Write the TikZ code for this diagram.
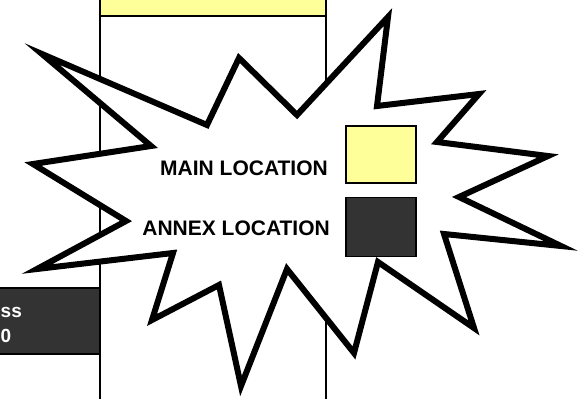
\documentclass[tikz,border=0pt]{standalone}
\usepackage{fontspec}
\setmainfont{Liberation Sans}
\usetikzlibrary{positioning}
\definecolor{mainYellow}{RGB}{255,255,153}
\definecolor{annexGrey}{RGB}{51,51,51}
\tikzset{
    wall/.style={
        draw=black, line width=2.5pt,
    },
    mainblock/.style={
        rectangle, fill=mainYellow, draw=black, line width=2.5pt,
        inner sep=0pt, outer sep=0pt,
    },
    annexblock/.style={
        rectangle, fill=annexGrey, draw=black, line width=2.5pt,
        inner sep=0pt, outer sep=0pt,
    },
    % the star-shaped call-out that carries the key
    burst/.style={
        fill=white, draw=black, line width=6pt,
        line join=miter, miter limit=20,
    },
    keybox/.style={
        rectangle, draw=black, line width=1.2pt, inner sep=0pt,
        minimum width=70pt, minimum height=57pt,
    },
    keylab/.style={
        font=\fontsize{21}{25}\selectfont\bfseries, inner sep=0pt,
    },
    blocklab/.style={
        font=\fontsize{19}{25}\selectfont\bfseries, text=white,
        inner sep=0pt, align=left,
    },
}

\begin{document}
\begin{tikzpicture}[x=1pt, y=-1pt]

\clip (0,0) rectangle (582,399);
\fill[white] (0,0) rectangle (582,399);

% ============================================================
%   Plan: main block on top, walls, annex block on the left
% ============================================================
\node[mainblock, minimum width=226pt, minimum height=30pt,
      anchor=south west] (main) at (100,16) {};

\draw[wall] (main.south west) -- ++(0,390);
\draw[wall] (main.south east) -- ++(0,390);

\node[annexblock, minimum width=120pt, minimum height=66pt,
      anchor=east] (annex) at (100,321) {};
\node[blocklab, anchor=base west] (annexlab) at (0.5,342) {ss\\0};

% ============================================================
%   Call-out star (white fill hides the walls behind it)
% ============================================================
\draw[burst]
    (42,54) -- (207,125) -- (239,58) -- (297,115) --
    (388,17) -- (377,106) -- (479,94) -- (437,142) --
    (548,156) -- (459,197) -- (561,246) -- (444,234) --
    (474,328) -- (378,262) -- (354,353) -- (287,269) --
    (241,386) -- (219,285) -- (152,320) -- (173,253) --
    (37,269) -- (126,221) -- (33,164) -- (151,146) -- cycle;

% ============================================================
%   Key
% ============================================================
\node[keybox, fill=mainYellow] (keymain) at (381,154.5) {};
\node[keybox, fill=annexGrey, minimum height=59pt,
      below=13pt of keymain] (keyannex) {};

\node[keylab, anchor=base east] (labmain)  at (328,175) {MAIN LOCATION};
\node[keylab, anchor=base east] (labannex) at (330,235) {ANNEX LOCATION};

\end{tikzpicture}
\end{document}
